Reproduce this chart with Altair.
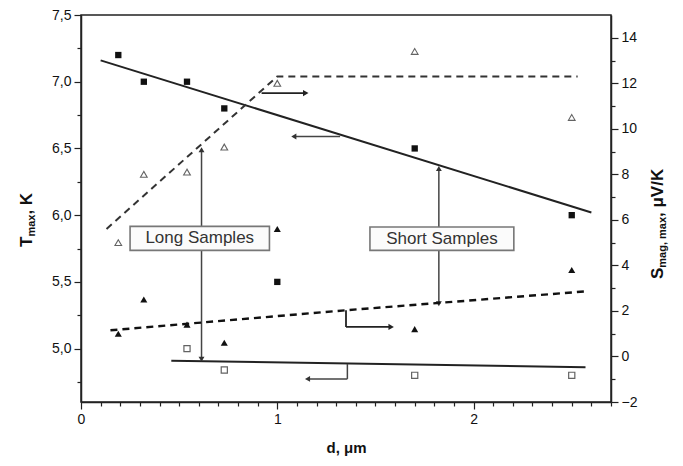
import altair as alt
import pandas as pd

# ---------------- data ----------------
d_pts = [0.19, 0.32, 0.54, 0.73, 1.0, 1.7, 2.5]
t_filled_sq = [7.2, 7.0, 7.0, 6.8, 5.5, 6.5, 6.0]          # left axis, T_max
s_open_tri = [5.0, 8.0, 8.1, 9.2, 12.0, 13.4, 10.5]        # right axis, S
s_filled_tri = [1.0, 2.5, 1.4, 0.6, 5.6, 1.2, 3.8]         # right axis, S
d_open_sq = [0.54, 0.73, 1.7, 2.5]
t_open_sq = [5.0, 4.84, 4.8, 4.8]                           # left axis

# fitted lines
t_fit_d = [0.1, 2.6]
t_fit = [7.16, 6.02]
t_low_d = [0.46, 2.57]
t_low = [4.91, 4.86]
s_up_d = [0.13, 1.0, 2.53]
s_up = [5.6, 12.3, 12.3]
s_low_d = [0.15, 1.35, 2.57]
s_low = [1.15, 2.03, 2.86]

# tick values
x_ticks = [0.0, 0.1, 0.2, 0.3, 0.4, 0.5, 0.6, 0.7, 0.8, 0.9, 1.0, 1.1, 1.2, 1.3,
           1.4, 1.5, 1.6, 1.7, 1.8, 1.9, 2.0, 2.1, 2.2, 2.3, 2.4, 2.5, 2.6, 2.7]
t_ticks = [4.75, 5.0, 5.25, 5.5, 5.75, 6.0, 6.25, 6.5, 6.75, 7.0, 7.25, 7.5]
s_ticks = [-2, -1, 0, 1, 2, 3, 4, 5, 6, 7, 8, 9, 10, 11, 12, 13, 14]

# annotation arrows in data units (left-axis ones)
t_arrow_d = [1.32, 1.357, 1.357, 0.614, 1.823]
t_arrow_d2 = [1.084, 1.357, 1.154, 0.614, 1.823]
t_arrow_t = [6.59, 4.885, 4.773, 6.49, 6.35]
t_arrow_t2 = [6.59, 4.773, 4.773, 4.92, 5.336]
t_head_d = [1.084, 1.154, 0.614, 0.614, 1.823, 1.823]
t_head_t = [6.59, 4.773, 6.49, 4.92, 6.35, 5.336]
t_head_dir = ["left", "left", "up", "down", "up", "down"]

# annotation arrows (right-axis ones)
s_arrow_d = [0.92, 1.35, 1.35]
s_arrow_d2 = [1.145, 1.35, 1.58]
s_arrow_s = [11.57, 2.03, 1.30]
s_arrow_s2 = [11.57, 1.30, 1.30]
s_head_d = [1.145, 1.58]
s_head_s = [11.57, 1.30]
s_head_dir = ["right", "right"]

# label boxes
box_labels = ["Long Samples", "Short Samples"]
box_d = [0.25, 1.472]
box_d2 = [0.96, 2.205]
box_t = [5.736, 5.736]
box_t2 = [5.916, 5.911]

# ---------------- scales / axes ----------------
FONT = "Liberation Sans"
x_axis = alt.Axis(values=x_ticks, grid=False, labelOverlap=False, labelFlush=False,
                  labelExpr="abs(datum.value - round(datum.value)) < 0.001 ? format(datum.value, 'd') : ''",
                  tickSize={"condition": {"test": "abs(datum.value - round(datum.value)) < 0.001", "value": 7}, "value": 4},
                  labelPadding=3, titlePadding=14, titleFontSize=15, titleFontWeight="bold")
t_axis = alt.Axis(values=t_ticks, orient="left", grid=False, labelOverlap=False, labelFlush=False,
                  labelExpr="(datum.value*4) % 2 == 0 ? replace(format(datum.value, '.1f'), '.', ',') : ''",
                  tickSize={"condition": {"test": "(datum.value*4) % 2 == 0", "value": 7}, "value": 4},
                  labelPadding=3)
s_axis = alt.Axis(values=s_ticks, orient="right", grid=False, labelOverlap=False, labelFlush=False,
                  labelExpr="datum.value % 2 == 0 ? format(datum.value, 'd') : ''",
                  tickSize={"condition": {"test": "datum.value % 2 == 0", "value": 7}, "value": 4},
                  labelPadding=3)

x_scale = alt.Scale(domain=[0, 2.7], nice=False, zero=False)
t_scale = alt.Scale(domain=[4.6, 7.5], nice=False, zero=False)
s_scale = alt.Scale(domain=[-2, 15], nice=False, zero=False)


def X(f):
    return alt.X(f"{f}:Q", scale=x_scale, axis=x_axis, title="d, μm")


def YT(f):
    return alt.Y(f"{f}:Q", scale=t_scale, axis=t_axis, title=None)


def YS(f):
    return alt.Y(f"{f}:Q", scale=s_scale, axis=s_axis, title=None)


head_shape = alt.Shape("dir:N", scale=alt.Scale(domain=["left", "right", "up", "down"],
                                                range=["triangle-left", "triangle-right", "triangle-up", "triangle-down"]),
                       legend=None)

# ---------------- left (T) layers ----------------
df_tsq = pd.DataFrame({"d": d_pts, "T": t_filled_sq})
df_tosq = pd.DataFrame({"d": d_open_sq, "T": t_open_sq})
df_tfit = pd.DataFrame({"d": t_fit_d, "T": t_fit})
df_tlow = pd.DataFrame({"d": t_low_d, "T": t_low})
df_tarr = pd.DataFrame({"d": t_arrow_d, "d2": t_arrow_d2, "T": t_arrow_t, "T2": t_arrow_t2})
df_thead = pd.DataFrame({"d": t_head_d, "T": t_head_t, "dir": t_head_dir})
df_box = pd.DataFrame({"label": box_labels, "d": box_d, "d2": box_d2, "T": box_t, "T2": box_t2})
df_box["dc"] = (df_box["d"] + df_box["d2"]) / 2
df_box["Tc"] = (df_box["T"] + df_box["T2"]) / 2

t_line = alt.Chart(df_tfit).mark_line(color="#222", strokeWidth=2).encode(x=X("d"), y=YT("T"))
t_low_line = alt.Chart(df_tlow).mark_line(color="#222", strokeWidth=2).encode(x=X("d"), y=YT("T"))
t_sq = alt.Chart(df_tsq).mark_point(shape="square", filled=True, size=40, color="#111", opacity=1).encode(x=X("d"), y=YT("T"))
t_osq = alt.Chart(df_tosq).mark_point(shape="square", filled=False, size=38, color="#222", strokeWidth=1.2).encode(x=X("d"), y=YT("T"))
t_rules = alt.Chart(df_tarr).mark_rule(color="#444", strokeWidth=1.5).encode(
    x=X("d"), x2="d2:Q", y=YT("T"), y2="T2:Q")
t_heads = alt.Chart(df_thead).mark_point(filled=True, size=35, color="#333", opacity=1).encode(
    x=X("d"), y=YT("T"), shape=head_shape)
boxes = alt.Chart(df_box).mark_rect(fill="#fbfbfb", stroke="#777", strokeWidth=1.6).encode(
    x=X("d"), x2="d2:Q", y=YT("T"), y2="T2:Q")
box_text = alt.Chart(df_box).mark_text(font=FONT, fontSize=17, color="#333").encode(
    x=X("dc"), y=YT("Tc"), text="label:N")

# axis titles with subscripts, drawn as text
def title_piece(txt, px, py, size):
    return alt.Chart(pd.DataFrame({"t": [txt]})).mark_text(
        font=FONT, fontSize=size, fontWeight="bold", angle=270, align="left",
        baseline="alphabetic", color="#111").encode(x=alt.value(px), y=alt.value(py), text="t:N")

titles = [
    title_piece("T", -49, 232, 17),
    title_piece("max", -46, 221.6, 11),
    title_piece(", K", -49, 199.6, 17),
    title_piece("S", 582, 264, 17),
    title_piece("mag, max", 585, 252.7, 11),
    title_piece(", μV/K", 582, 202, 17),
]

left = alt.layer(t_line, t_low_line, t_sq, t_osq, t_rules, t_heads, boxes, box_text, *titles)

# ---------------- right (S) layers ----------------
df_sotri = pd.DataFrame({"d": d_pts, "S": s_open_tri})
df_sftri = pd.DataFrame({"d": d_pts, "S": s_filled_tri})
df_sup = pd.DataFrame({"d": s_up_d, "S": s_up})
df_slow = pd.DataFrame({"d": s_low_d, "S": s_low})
df_sarr = pd.DataFrame({"d": s_arrow_d, "d2": s_arrow_d2, "S": s_arrow_s, "S2": s_arrow_s2})
df_shead = pd.DataFrame({"d": s_head_d, "S": s_head_s, "dir": s_head_dir})

s_up_line = alt.Chart(df_sup).mark_line(color="#333", strokeWidth=2, strokeDash=[7, 5]).encode(x=X("d"), y=YS("S"))
s_low_line = alt.Chart(df_slow).mark_line(color="#111", strokeWidth=2.4, strokeDash=[7, 5]).encode(x=X("d"), y=YS("S"))
s_otri = alt.Chart(df_sotri).mark_point(shape="triangle-up", filled=False, size=45, color="#222", strokeWidth=1.1).encode(x=X("d"), y=YS("S"))
s_ftri = alt.Chart(df_sftri).mark_point(shape="triangle-up", filled=True, size=50, color="#111", opacity=1).encode(x=X("d"), y=YS("S"))
s_rules = alt.Chart(df_sarr).mark_rule(color="#222", strokeWidth=1.8).encode(
    x=X("d"), x2="d2:Q", y=YS("S"), y2="S2:Q")
s_heads = alt.Chart(df_shead).mark_point(filled=True, size=40, color="#222", opacity=1).encode(
    x=X("d"), y=YS("S"), shape=head_shape)

right = alt.layer(s_up_line, s_low_line, s_otri, s_ftri, s_rules, s_heads)

chart = alt.layer(left, right).resolve_scale(y="independent").properties(
    width=530, height=387,
    autosize=alt.AutoSizeParams(type="none"),
    padding={"left": 73, "top": 7, "right": 64, "bottom": 56},
    background="white",
).configure_view(stroke="#222", strokeWidth=1.5).configure_axis(
    labelFont=FONT, labelFontSize=14, labelColor="#111", titleFont=FONT, titleColor="#111",
    domainColor="#222", domainWidth=1.5, tickColor="#222", tickWidth=1.2)

chart.save("out.html", embed_options={"renderer": "svg", "actions": False})
